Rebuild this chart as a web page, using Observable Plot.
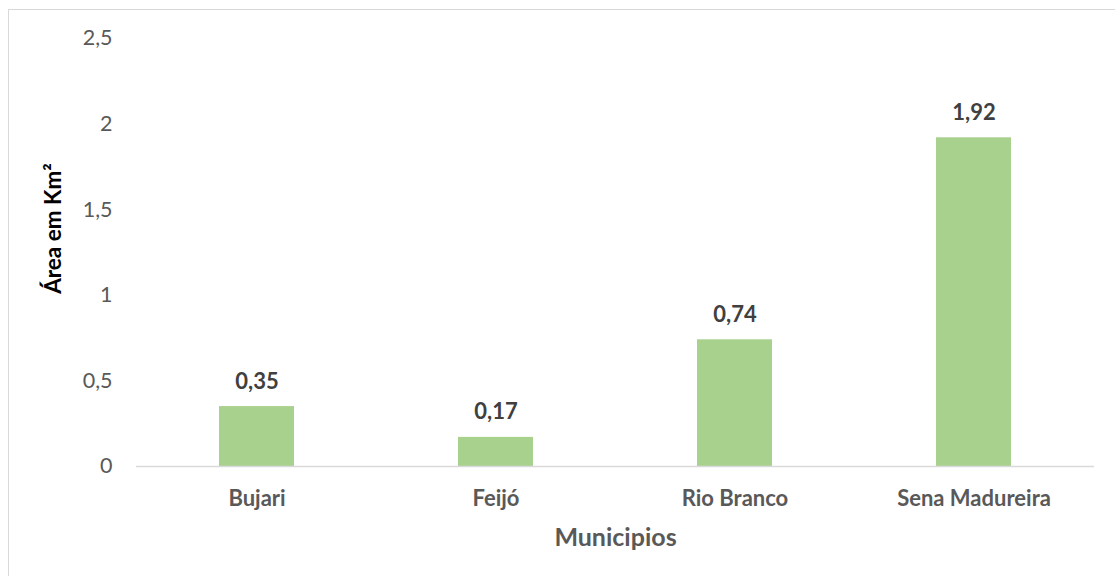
<!DOCTYPE html>
<html>
<head>
<meta charset="utf-8">
<script src="https://cdn.jsdelivr.net/npm/d3@7"></script>
<script src="https://cdn.jsdelivr.net/npm/@observablehq/plot@0.6"></script>
<style>
  html, body { margin: 0; padding: 0; background: #fff; overflow: hidden; }
  #wrap { position: relative; width: 1115px; height: 576px; overflow: hidden; }
  #frame { position: absolute; left: 8px; top: 9px; width: 1200px; height: 700px; border: 1px solid #d9d9d9; box-sizing: border-box; }
  #chart { position: absolute; left: 0; top: 0; }
</style>
</head>
<body>
<div id="wrap">
  <div id="frame"></div>
  <div id="chart"></div>
</div>
<script>
const municipios = ["Bujari", "Feijó", "Rio Branco", "Sena Madureira"];
const areas = [0.35, 0.17, 0.74, 1.92];
const yTicks = [0, 0.5, 1, 1.5, 2, 2.5];
const yTitle = "Área em Km²";
const xTitle = "Municipios";

const data = municipios.map((m, i) => ({municipio: m, area: areas[i]}));
const fmt = d => String(d).replace(".", ",");
const font = "Lato, 'Open Sans', sans-serif";

const plot = Plot.plot({
  width: 1115,
  height: 576,
  marginLeft: 136,
  marginRight: 21,
  marginTop: 38,
  marginBottom: 110,
  style: {fontFamily: font, background: "transparent", overflow: "visible"},
  x: {domain: municipios, paddingInner: 0.687, paddingOuter: 0.3435, label: null},
  y: {domain: [0, 2.5], ticks: yTicks, label: null},
  marks: [
    Plot.barY(data, {x: "municipio", y: "area", fill: "#a9d18e"}),
    Plot.ruleY([0], {stroke: "#d9d9d9", strokeWidth: 1.5}),
    Plot.axisY({ticks: yTicks, tickFormat: fmt, tickSize: 0, tickPadding: 24, fontSize: 21.5, fill: "#595959", label: null}),
    Plot.axisX({tickSize: 0, tickPadding: 24, fontSize: 22, fontWeight: "bold", fill: "#595959", label: null}),
    Plot.text(data, {x: "municipio", y: "area", text: d => fmt(d.area), dy: -25, fontSize: 22, fontWeight: "bold", fill: "#404040"}),
    Plot.text([xTitle], {frameAnchor: "bottom", lineAnchor: "middle", dy: 71, fontSize: 25, fontWeight: "bold", fill: "#595959"}),
    Plot.text([yTitle], {frameAnchor: "left", textAnchor: "middle", lineAnchor: "middle", dx: -83, dy: -24, rotate: -90, fontSize: 22.5, fontWeight: "bold", fill: "#000"})
  ]
});
document.getElementById("chart").appendChild(plot);
</script>
</body>
</html>
